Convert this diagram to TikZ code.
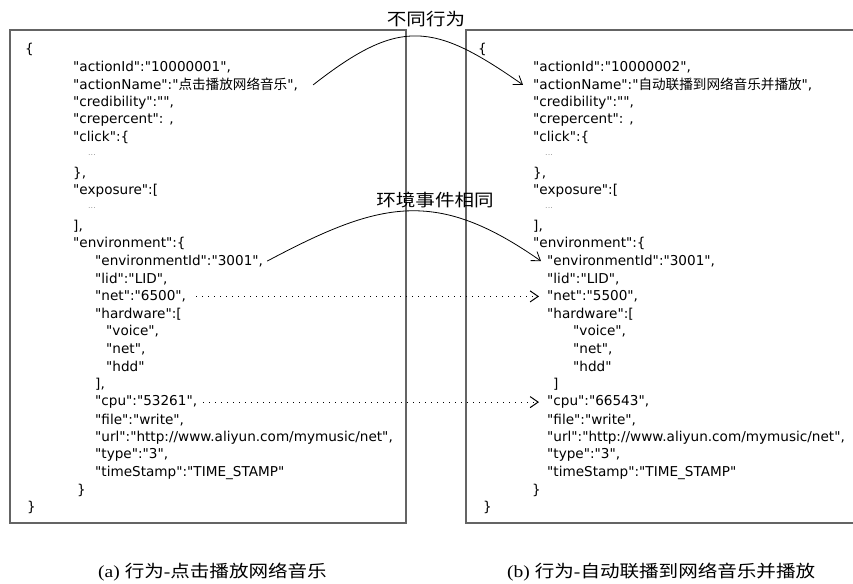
\documentclass[tikz,border=0pt]{standalone}
\usepackage{graphicx}
\usepackage{fontspec}
\setmainfont{Liberation Serif}
\newfontfamily\jsonfont{DejaVu Sans}
\newfontfamily\cjk{Noto Sans CJK SC}
\usetikzlibrary{arrows.meta}
\definecolor{panelgray}{RGB}{100,100,100}
\newcommand\zh[1]{{\cjk #1}}
\newcommand\wide[1]{\scalebox{1.15}[1]{#1}}

\begin{document}
\begin{tikzpicture}[x=1pt,y=1pt]
\tikzset{
  json/.style={anchor=west, inner sep=0pt, font=\jsonfont\fontsize{13.6}{16}\selectfont},
  elide/.style={anchor=west, inner sep=0pt, font=\jsonfont\fontsize{8}{9}\selectfont, text=gray!80},
  panel/.style={draw=panelgray, line width=1.6pt},
  caption/.style={anchor=west, inner sep=0pt, font=\fontsize{17}{20}\selectfont},
  tag/.style={inner sep=0pt, font=\fontsize{17}{20}\selectfont},
  link/.style={line width=0.8pt, -{Straight Barb[length=8pt,width=11pt]}},
  samelink/.style={link, line width=1pt, dash pattern=on 1.1pt off 4.9pt},
}
\useasboundingbox (0,0) rectangle (853,-583);
\clip (0,0) rectangle (853,-583);

% the two record panels
\draw[panel] (10,-30) rectangle (406,-523);
\draw[panel] (466,-30) rectangle (880,-523);

% left record
\node[json] (lo)    at (25,-49.7)  {\{};
\node[json] (lid)   at (73,-67.3)  {"actionId":"10000001",};
\node[json] (lname) at (73,-84.9)  {"actionName":"\zh{点击播放网络音乐}",};
\node[json] (lcred) at (73,-102.5) {"credibility":"",};
\node[json] (lcrep) at (73,-120.2) {"crepercent": ,};
\node[json] (lclk)  at (73,-137.8) {"click":\{};
\node[elide] (ld1)  at (88,-155.4) {...};
\node[json] (lclkc) at (73,-173.0) {\},};
\node[json] (lexp)  at (73,-190.6) {"exposure":[};
\node[elide] (ld2)  at (88,-208.3) {...};
\node[json] (lexpc) at (73,-225.9) {],};
\node[json] (lenv)  at (73,-243.5) {"environment":\{};
\node[json] (leid)  at (95,-261.1) {"environmentId":"3001",};
\node[json] (llid)  at (95,-278.7) {"lid":"LID",};
\node[json] (lnet)  at (95,-296.4) {"net":"6500",};
\node[json] (lhw)   at (95,-314.0) {"hardware":[};
\node[json] (lhw1)  at (106,-331.6) {"voice",};
\node[json] (lhw2)  at (106,-349.2) {"net",};
\node[json] (lhw3)  at (106,-366.8) {"hdd"};
\node[json] (lhwc)  at (95,-384.5) {],};
\node[json] (lcpu)  at (95,-402.1) {"cpu":"53261",};
\node[json] (lfile) at (95,-419.7) {"file":"write",};
\node[json] (lurl)  at (95,-437.3) {"url":"http://www.aliyun.com/mymusic/net",};
\node[json] (ltype) at (95,-454.9) {"type":"3",};
\node[json] (lts)   at (95,-472.6) {"timeStamp":"TIME\_STAMP"};
\node[json] (lenvc) at (77,-490.2) {\}};
\node[json] (lc)    at (27,-507.8) {\}};

% right record
\node[json] (ro)    at (478,-49.7)  {\{};
\node[json] (rid)   at (533,-67.3)  {"actionId":"10000002",};
\node[json] (rname) at (533,-84.9)  {"actionName":"\zh{自动联播到网络音乐并播放}",};
\node[json] (rcred) at (533,-102.5) {"credibility":"",};
\node[json] (rcrep) at (533,-120.2) {"crepercent": ,};
\node[json] (rclk)  at (533,-137.8) {"click":\{};
\node[elide] (rd1)  at (545,-155.4) {...};
\node[json] (rclkc) at (533,-173.0) {\},};
\node[json] (rexp)  at (533,-190.6) {"exposure":[};
\node[elide] (rd2)  at (545,-208.3) {...};
\node[json] (rexpc) at (533,-225.9) {],};
\node[json] (renv)  at (533,-243.5) {"environment":\{};
\node[json] (reid)  at (547,-261.1) {"environmentId":"3001",};
\node[json] (rlid)  at (547,-278.7) {"lid":"LID",};
\node[json] (rnet)  at (547,-296.4) {"net":"5500",};
\node[json] (rhw)   at (547,-314.0) {"hardware":[};
\node[json] (rhw1)  at (573,-331.6) {"voice",};
\node[json] (rhw2)  at (573,-349.2) {"net",};
\node[json] (rhw3)  at (573,-366.8) {"hdd"};
\node[json] (rhwc)  at (553,-384.5) {]};
\node[json] (rcpu)  at (547,-402.1) {"cpu":"66543",};
\node[json] (rfile) at (547,-419.7) {"file":"write",};
\node[json] (rurl)  at (547,-437.3) {"url":"http://www.aliyun.com/mymusic/net",};
\node[json] (rtype) at (547,-454.9) {"type":"3",};
\node[json] (rts)   at (547,-472.6) {"timeStamp":"TIME\_STAMP"};
\node[json] (renvc) at (532,-490.2) {\}};
\node[json] (rc)    at (483,-507.8) {\}};

% connector ends beside the lines they join
\coordinate (s1) at ([xshift=15pt]lname.east);
\coordinate (e1) at ([xshift=-10pt]rname.west);
\coordinate (s2) at ([xshift=4pt]leid.east);
\coordinate (e2) at ([xshift=-6pt]reid.west);
\coordinate (s3) at ([xshift=10pt]lnet.east);
\coordinate (e3) at ([xshift=-8pt]rnet.west);
\coordinate (s4) at ([xshift=6pt]lcpu.east);
\coordinate (e4) at ([xshift=-8pt]rcpu.west);

\draw[link] (s1) to[out=38,in=145,looseness=1.34] (e1);
\draw[link] (s2) to[out=28,in=145,looseness=1.2] (e2);
\draw[samelink] (s3) -- (e3);
\draw[samelink] (s4) -- (e4);

\node[tag] (t1) at (426,-19)  {\wide{\zh{不同行为}}};
\node[tag] (t2) at (435,-200) {\wide{\zh{环境事件相同}}};

\node[caption] (ca) at (98,-572)  {\wide{(a) \zh{行为}-\zh{点击播放网络音乐}}};
\node[caption] (cb) at (507,-572) {\wide{(b) \zh{行为}-\zh{自动联播到网络音乐并播放}}};
\end{tikzpicture}
\end{document}
